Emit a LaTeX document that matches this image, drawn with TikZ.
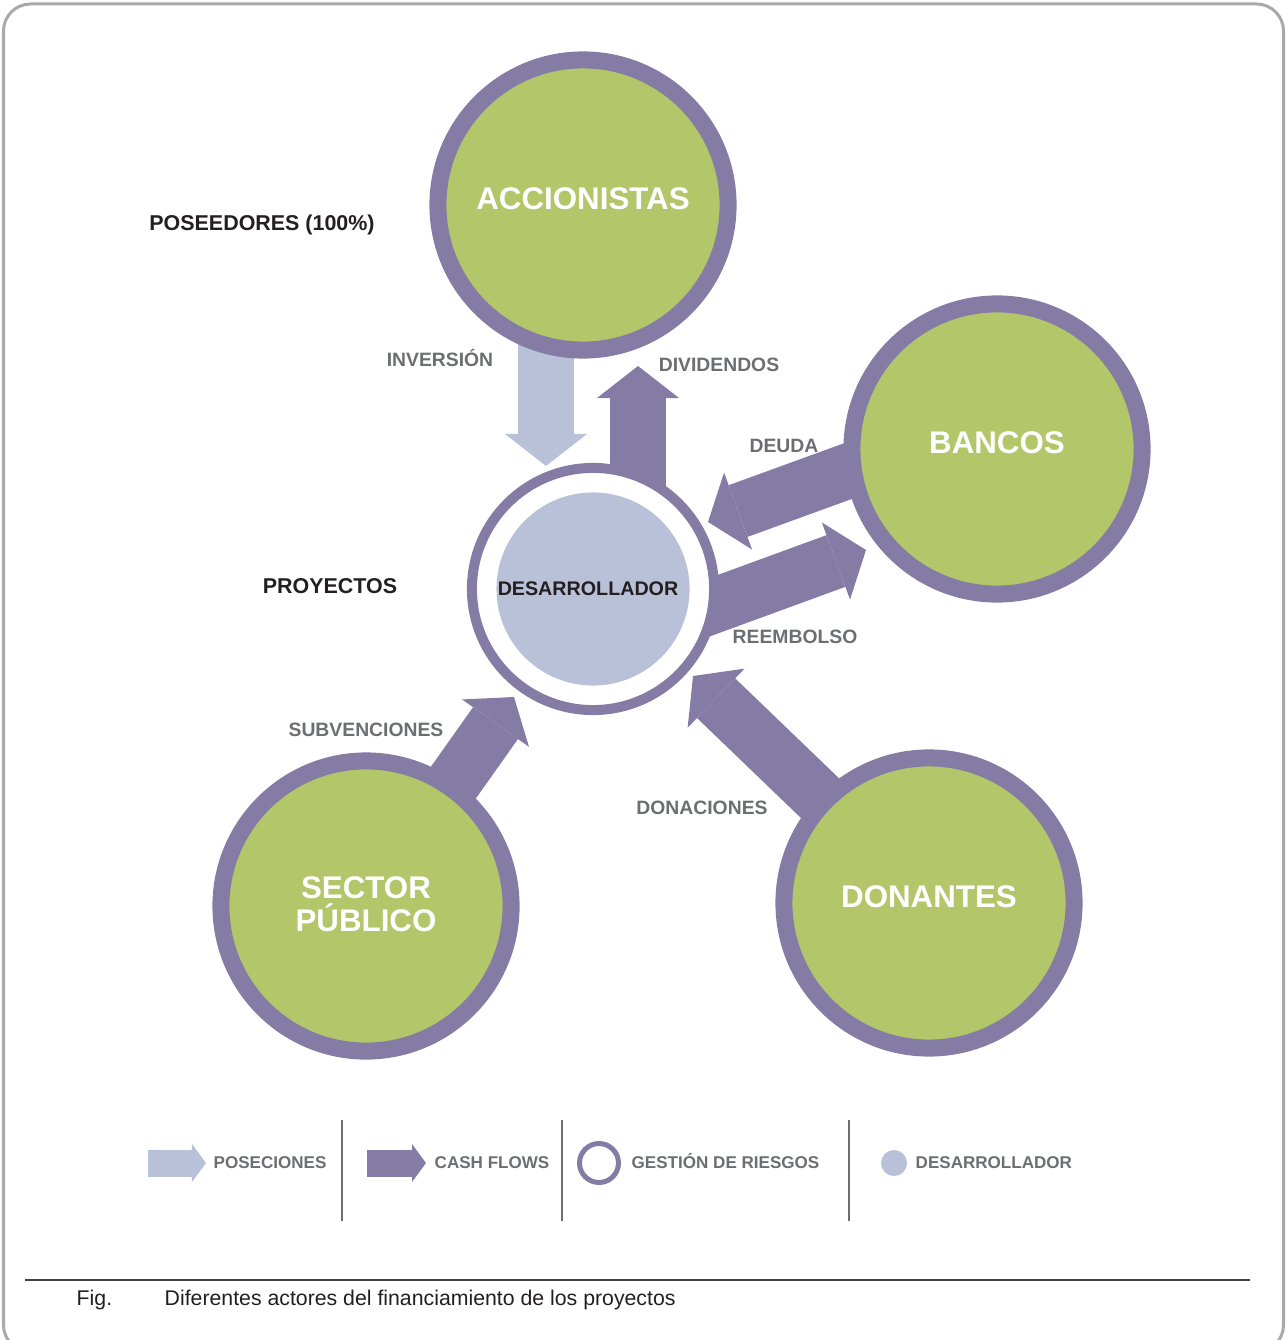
\documentclass[tikz,border=0pt]{standalone}
\usepackage{fontspec}
\setmainfont{Liberation Sans}
\usepackage{xcolor}
\usetikzlibrary{arrows.meta}

\definecolor{ringpurple}{RGB}{133,124,166}
\definecolor{actorgreen}{RGB}{180,198,106}
\definecolor{devblue}{RGB}{185,193,216}
\definecolor{labelgray}{RGB}{109,110,113}
\definecolor{framegray}{RGB}{167,169,172}
\definecolor{darktext}{RGB}{35,31,32}

\pgfdeclarelayer{back}
\pgfsetlayers{back,main}

\begin{document}
\begin{tikzpicture}[x=0.01cm, y=-0.01cm,
    actor/.style={circle, draw=ringpurple, fill=actorgreen, line width=0.17cm,
        minimum size=2.9cm, inner sep=0pt, text=white, align=center, text depth=0.12cm,
        font=\bfseries\fontsize{8.9}{9.4}\selectfont},
    flowlabel/.style={inner sep=0pt, text=labelgray, font=\bfseries\fontsize{5.5}{6}\selectfont},
    sidelabel/.style={inner sep=0pt, text=darktext, font=\bfseries\fontsize{6.1}{7}\selectfont},
    keylabel/.style={anchor=base west, inner sep=0pt, text=labelgray, font=\bfseries\fontsize{4.85}{5}\selectfont},
    posesion/.style={draw=devblue, line width=0.55cm,
        -{Triangle[width=0.82cm, length=0.32cm, line width=0pt]}},
    cashflow/.style={posesion, draw=ringpurple}]
    \useasboundingbox (0,0) rectangle (1287,1340);

    % frame
    \draw[framegray, line width=0.03cm, rounded corners=0.27cm] (3.5,4) rectangle (1283.5,1352);

    % actors
    \node[actor] (acc) at (583,205) {ACCIONISTAS};
    \node[actor] (ban) at (997,449) {BANCOS};
    \node[actor, text depth=0.04cm] (sec) at (366,906) {SECTOR\\PÚBLICO};
    \node[actor] (don) at (929,903) {DONANTES};

    % developer in the middle
    \node[circle, draw=ringpurple, fill=white, line width=0.1cm, minimum size=2.42cm,
        inner sep=0pt] (dev) at (593,589) {};
    \node[circle, fill=devblue, minimum size=1.93cm, inner sep=0pt] (devcore) at (dev.center) {};
    \node[inner sep=0pt, text=darktext, font=\bfseries\fontsize{5.6}{6}\selectfont]
        (devtext) at (588,589) {DESARROLLADOR};

    % arrow ends
    \coordinate (inv-s) at (546,300);
    \coordinate (inv-t) at (546,466);
    \coordinate (div-s) at (638,540);
    \coordinate (div-t) at (638,366);
    \coordinate (deu-s) at (943,436.5);
    \coordinate (deu-t) at (708,522);
    \coordinate (ree-s) at (650,629);
    \coordinate (ree-t) at (866,550);
    \coordinate (sub-t) at (514,697);
    \coordinate (don-t) at (693,676);

    \begin{pgfonlayer}{back}
        \draw[posesion] (inv-s) -- (inv-t);
        \draw[cashflow] (div-s) -- (div-t);
        \draw[cashflow] (deu-s) -- (deu-t);
        \draw[cashflow] (ree-s) -- (ree-t);
        \draw[cashflow] (sec.center) -- (sub-t);
        \draw[cashflow] (don.center) -- (don-t);
    \end{pgfonlayer}

    % labels
    \node[sidelabel] (own) at (262,225) {POSEEDORES (100\%)};
    \node[sidelabel] (proj) at (330,586) {PROYECTOS};
    \node[flowlabel] (inv) at (440,358) {INVERSIÓN};
    \node[flowlabel] (div) at (719,365) {DIVIDENDOS};
    \node[flowlabel] (deu) at (784,446) {DEUDA};
    \node[flowlabel] (ree) at (795,637) {REEMBOLSO};
    \node[flowlabel] (sub) at (366,730) {SUBVENCIONES};
    \node[flowlabel] (dona) at (702,808) {DONACIONES};

    % key
    \draw[devblue, line width=0.27cm, -{Triangle[width=0.38cm, length=0.14cm, line width=0pt]}]
        (148,1163) -- (206,1163);
    \node[keylabel] (k1) at (213,1168) {POSECIONES};
    \draw[ringpurple, line width=0.27cm, -{Triangle[width=0.38cm, length=0.14cm, line width=0pt]}]
        (367,1163) -- (426,1163);
    \node[keylabel] (k2) at (434,1168) {CASH FLOWS};
    \draw[ringpurple, line width=0.05cm] (599,1163) circle (19.5);
    \node[keylabel] (k3) at (631,1168) {GESTIÓN DE RIESGOS};
    \fill[devblue] (894,1163) circle (13);
    \node[keylabel] (k4) at (915,1168) {DESARROLLADOR};
    \foreach \sx in {342,562,849}
        \draw[labelgray, line width=0.012cm] (\sx,1120) -- (\sx,1221);

    % caption
    \draw[darktext!85, line width=0.02cm] (25,1280) -- (1250,1280);
    \node[anchor=west, inner sep=0pt, text=darktext, font=\fontsize{6.05}{7}\selectfont] (fig) at (76,1300) {Fig.};
    \node[anchor=west, inner sep=0pt, text=darktext, font=\fontsize{6.05}{7}\selectfont] (cap) at (164,1300)
        {Diferentes actores del financiamiento de los proyectos};
\end{tikzpicture}
\end{document}
